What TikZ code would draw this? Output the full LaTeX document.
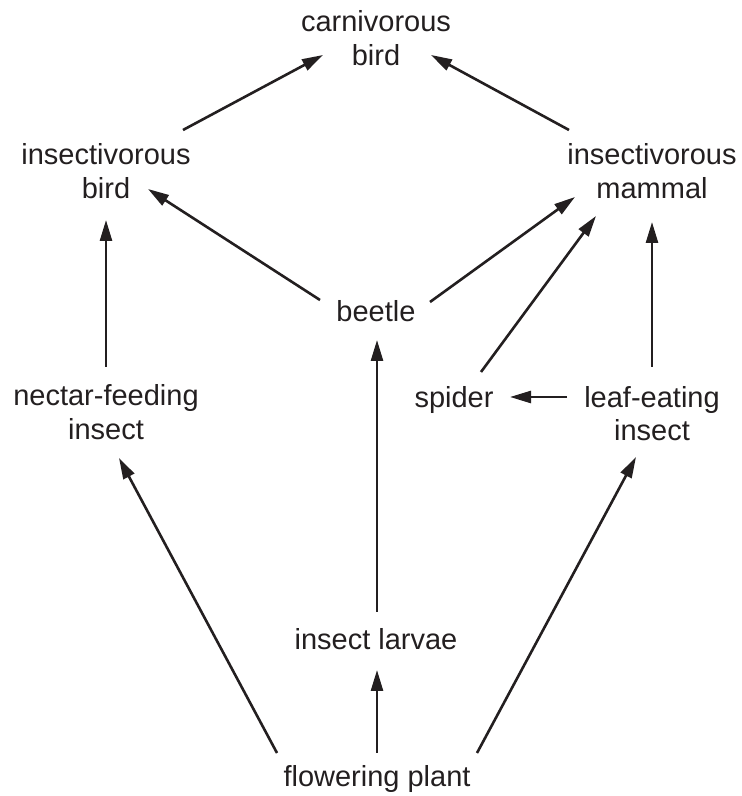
\documentclass[tikz,border=0pt]{standalone}
\usepackage{fontspec}
\setmainfont{Liberation Sans}
\usetikzlibrary{arrows.meta}
\definecolor{ink}{HTML}{231F20}
\begin{document}
\begin{tikzpicture}[x=1pt, y=1pt,
    organism/.style={align=center, inner sep=0pt, text=ink,
      font=\fontsize{29}{33.5}\selectfont},
    feed/.style={draw=ink, line width=2.6pt,
      -{Triangle[length=21pt, width=12pt]}}]
    \useasboundingbox (0,0) rectangle (742,796);
    % Organisms
    \node[organism] (cbird) at (376,758) {carnivorous\\bird};
    \node[organism] (ibird) at (106,625) {insectivorous\\bird};
    \node[organism] (imammal) at (652,625) {insectivorous\\mammal};
    \node[organism] (beetle) at (376,484.5) {beetle};
    \node[organism] (nectar) at (106,384) {nectar-feeding\\insect};
    \node[organism] (spider) at (454,395.5) {spider};
    \node[organism] (leaf) at (652,382.5) {leaf-eating\\insect};
    \node[organism] (larvae) at (376,156.5) {insect larvae};
    \node[organism] (plant) at (377,16.5) {flowering plant};
    % Top predators
    \draw[feed] ([shift={(77,41)}]ibird.center) -- ([shift={(-53,-17)}]cbird.center);
    \draw[feed] ([shift={(-83,41)}]imammal.center) -- ([shift={(55,-17)}]cbird.center);
    % Beetle and spider
    \draw[feed] ([shift={(-56,11.5)}]beetle.center) -- ([shift={(42,-18)}]ibird.center);
    \draw[feed] ([shift={(54,9.5)}]beetle.center) -- ([shift={(-77,-26)}]imammal.center);
    \draw[feed] ([shift={(27,28.5)}]spider.center) -- ([shift={(-56,-45)}]imammal.center);
    % Insects
    \draw[feed] ([shift={(0,46.5)}]leaf.center) -- ([shift={(0,-51)}]imammal.center);
    \draw[feed] ([shift={(-85,16.5)}]leaf.center) -- ([shift={(56,3.5)}]spider.center);
    \draw[feed] ([shift={(0,45)}]nectar.center) -- ([shift={(0,-49)}]ibird.center);
    \draw[feed] ([shift={(1,27.5)}]larvae.center) -- ([shift={(1,-28.5)}]beetle.center);
    % Flowering plant
    \draw[feed] ([shift={(0,26.5)}]plant.center) -- ([shift={(1,-30.5)}]larvae.center);
    \draw[feed] ([shift={(-100,26.5)}]plant.center) -- ([shift={(13,-46)}]nectar.center);
    \draw[feed] ([shift={(100,26.5)}]plant.center) -- ([shift={(-16,-43.5)}]leaf.center);
\end{tikzpicture}
\end{document}
